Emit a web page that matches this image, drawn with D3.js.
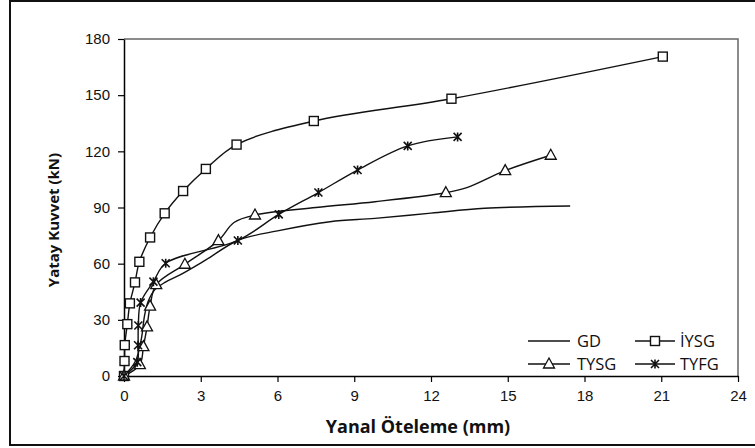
<!DOCTYPE html>
<html>
<head>
<meta charset="utf-8">
<script src="https://cdn.jsdelivr.net/npm/d3@7"></script>
<style>
  body { margin: 0; background: #fff; }
  svg { display: block; }
</style>
</head>
<body>
<div id="chart"></div>
<script>
// values (x in mm, y in kN)
const xTicks = [0, 3, 6, 9, 12, 15, 18, 21, 24];
const yTicks = [0, 30, 60, 90, 120, 150, 180];

const gdX = [0, 0.45, 0.68, 0.8, 0.95, 1.2, 1.6, 2.19, 3.2, 4.47, 6, 8.05, 9.81, 12, 14.1, 17.44];
const gdY = [0, 8, 20, 32, 40, 46, 50, 54, 62, 72.5, 77.5, 82.4, 84.2, 87, 89.6, 90.8];

const iysgX = [0, 0.02, 0.03, 0.13, 0.23, 0.43, 0.6, 1.02, 1.59, 2.31, 3.2, 4.4, 7.42, 12.8, 21.06];
const iysgY = [0, 8, 16.5, 27.7, 38.8, 50, 61, 74, 86.9, 98.8, 110.6, 123.6, 136.2, 148.1, 170.6];

const tysgX = [0, 0.62, 0.76, 0.9, 1.02, 1.26, 2.38, 3.69, 4.3, 5.12, 7.5, 9.81, 12.58, 13.4, 14.9, 16.68];
const tysgY = [0, 6.1, 15.7, 26.2, 37.3, 48.8, 59.7, 72.3, 82, 86, 90, 93.1, 97.9, 100.6, 109.7, 117.9];
const tysgMark = [1, 1, 1, 1, 1, 1, 1, 1, 0, 1, 0, 0, 1, 0, 1, 1]; // points with a marker

const tyfgX = [0, 0.52, 0.55, 0.56, 0.65, 1.15, 1.63, 4.45, 6.05, 7.6, 9.13, 11.09, 13.04];
const tyfgY = [0, 7.4, 16.4, 27, 39.2, 50.4, 60.2, 72.4, 86.3, 98, 110, 122.9, 127.7];

const seriesNames = ['GD', 'İYSG', 'TYSG', 'TYFG'];

let width = 755, height = 448;
let margin = { top: 39, left: 124, right: 17, bottom: 72 };

let svg = d3.select('#chart')
  .append('svg')
  .attr('width', width)
  .attr('height', height);

// outer frame
svg.append('rect')
  .attr('x', 10).attr('y', 1)
  .attr('width', 748).attr('height', 444)
  .attr('fill', 'none')
  .attr('stroke', '#111')
  .attr('stroke-width', 2);

let xScale = d3.scaleLinear()
  .domain([0, 24])
  .range([margin.left, width - margin.right]);

let yScale = d3.scaleLinear()
  .domain([0, 180])
  .range([height - margin.bottom, margin.top]);

// plot area border (top and right are grey)
svg.append('path')
  .attr('d', `M${xScale(0)},${yScale(180)}H${xScale(24)}V${yScale(0)}`)
  .attr('fill', 'none')
  .attr('stroke', '#666')
  .attr('stroke-width', 1.5);

let xAxis = svg.append('g')
  .attr('transform', `translate(0,${yScale(0)})`)
  .call(d3.axisBottom(xScale).tickValues(xTicks).tickSize(6).tickPadding(8).tickSizeOuter(0));

let yAxis = svg.append('g')
  .attr('transform', `translate(${xScale(0)},0)`)
  .call(d3.axisLeft(yScale).tickValues(yTicks).tickSize(6).tickPadding(8).tickSizeOuter(0));

[xAxis, yAxis].forEach(a => {
  a.select('.domain').attr('stroke', '#000').attr('stroke-width', 1.5);
  a.selectAll('.tick line').attr('stroke', '#000').attr('stroke-width', 1.2);
  a.selectAll('.tick text')
    .attr('fill', '#111')
    .style('font', '15px "Liberation Sans", Arial, sans-serif');
});

// axis titles
svg.append('text')
  .attr('x', 418)
  .attr('y', 433)
  .attr('text-anchor', 'middle')
  .style('font', 'bold 18px "Open Sans", sans-serif')
  .attr('fill', '#111')
  .text('Yanal Öteleme (mm)');

svg.append('text')
  .attr('transform', 'translate(59,220) rotate(-90)')
  .attr('text-anchor', 'middle')
  .style('font', 'bold 15px "Open Sans", sans-serif')
  .attr('fill', '#111')
  .text('Yatay Kuvvet (kN)');

let line = d3.line()
  .x(d => xScale(d[0]))
  .y(d => yScale(d[1]))
  .curve(d3.curveCatmullRom.alpha(0.5));

function pts(xs, ys) { return xs.map((x, i) => [x, ys[i]]); }

let series = [
  { name: 'GD', data: pts(gdX, gdY), marker: null },
  { name: 'İYSG', data: pts(iysgX, iysgY), marker: 'square' },
  { name: 'TYSG', data: pts(tysgX, tysgY), marker: 'triangle', mark: tysgMark },
  { name: 'TYFG', data: pts(tyfgX, tyfgY), marker: 'star' }
];

let lineG = svg.append('g');
series.forEach(s => {
  lineG.append('path')
    .datum(s.data)
    .attr('d', line)
    .attr('fill', 'none')
    .attr('stroke', '#111')
    .attr('stroke-width', 1.4);
});

// draws one marker centred at (cx, cy)
function drawMarker(g, type, cx, cy) {
  if (type === 'square') {
    g.append('rect')
      .attr('x', cx - 4.5).attr('y', cy - 4.5)
      .attr('width', 9).attr('height', 9)
      .attr('fill', '#fff').attr('stroke', '#111').attr('stroke-width', 1.4);
  } else if (type === 'triangle') {
    g.append('path')
      .attr('d', `M${cx},${cy - 6}L${cx + 5.5},${cy + 4}L${cx - 5.5},${cy + 4}Z`)
      .attr('fill', '#fff').attr('stroke', '#111').attr('stroke-width', 1.3);
  } else if (type === 'star') {
    g.append('path')
      .attr('d', `M${cx - 4},${cy - 4}L${cx + 4},${cy + 4}M${cx + 4},${cy - 4}L${cx - 4},${cy + 4}M${cx},${cy - 4.5}V${cy + 4.5}`)
      .attr('fill', 'none').attr('stroke', '#111').attr('stroke-width', 1.6);
  }
}

let markG = svg.append('g');
series.forEach(s => {
  if (!s.marker) return;
  s.data.forEach((d, i) => {
    if (s.mark && !s.mark[i]) return;
    drawMarker(markG, s.marker, xScale(d[0]), yScale(d[1]));
  });
});

// legend, two columns x two rows
let legendPos = [
  { x: 528, y: 341 }, { x: 635, y: 341 },
  { x: 528, y: 364 }, { x: 635, y: 364 }
];
seriesNames.forEach((name, i) => {
  let s = series.find(d => d.name === name);
  let p = legendPos[i];
  let lw = i % 2 === 0 ? 42 : 40;
  svg.append('line')
    .attr('x1', p.x).attr('x2', p.x + lw)
    .attr('y1', p.y).attr('y2', p.y)
    .attr('stroke', '#111').attr('stroke-width', 1.4);
  if (s.marker) drawMarker(svg, s.marker, p.x + lw / 2, p.y);
  svg.append('text')
    .attr('x', i % 2 === 0 ? 577 : 680)
    .attr('y', p.y)
    .attr('dy', '0.35em')
    .style('font', '16.5px "Open Sans", sans-serif')
    .attr('fill', '#111')
    .text(name);
});
</script>
</body>
</html>
